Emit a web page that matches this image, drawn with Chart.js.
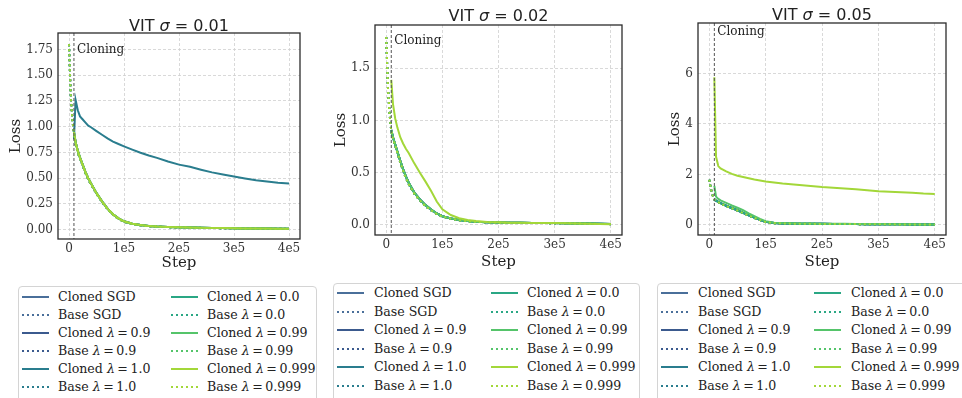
<!DOCTYPE html>
<html><head><meta charset="utf-8">
<script src="https://cdn.jsdelivr.net/npm/chart.js@4.4.1/dist/chart.umd.min.js"></script>
<style>
html,body{margin:0;padding:0;background:#fff;}
body{width:962px;height:398px;position:relative;overflow:hidden;font-family:"DejaVu Serif",serif;}
canvas{position:absolute;}
.title{position:absolute;font-family:"DejaVu Sans",sans-serif;font-size:16px;color:#222;transform:translate(-50%,-50%);white-space:nowrap;}
.legend{position:absolute;border:1px solid #d4d4d4;border-radius:4px;background:#fff;box-sizing:border-box;}
.lt{position:absolute;font-size:12.6px;color:#222;white-space:nowrap;transform:translateY(-50%);line-height:1;}
svg{position:absolute;overflow:visible;}
</style></head><body>
<script>
// ---------- DATA ----------
const steps = [0,3000,6000,9000,12000,16000,20000,25000,30000,35000,40000,50000,60000,70000,80000,90000,100000,115000,130000,145000,160000,180000,200000,220000,240000,260000,280000,300000,320000,340000,360000,380000,400000];
const cloneStep = 9000;
const methods = ['SGD','0.9','1.0','0.0','0.99','0.999'];
const legendNames = ['Cloned SGD','Base SGD','Cloned λ = 0.9','Base λ = 0.9','Cloned λ = 1.0','Base λ = 1.0','Cloned λ = 0.0','Base λ = 0.0','Cloned λ = 0.99','Base λ = 0.99','Cloned λ = 0.999','Base λ = 0.999'];
const titles = ['0.01','0.02','0.05'];
const xTickValues = [0,100000,200000,300000,400000];
const xTickLabels = ['0','1e5','2e5','3e5','4e5'];

// sigma = 0.01
const base1 = [1.80,1.32,1.07,0.93,0.83,0.75,0.69,0.62,0.55,0.49,0.44,0.35,0.27,0.20,0.145,0.105,0.078,0.056,0.043,0.035,0.030,0.025,0.022,0.020,0.018,0.016,0.015,0.013,0.012,0.011,0.010,0.009,0.008];
const clonedLow1 = [null,null,null,0.95,0.85,0.765,0.70,0.63,0.56,0.50,0.45,0.355,0.275,0.205,0.15,0.11,0.082,0.058,0.045,0.037,0.031,0.026,0.023,0.021,0.019,0.017,0.016,0.014,0.013,0.012,0.011,0.010,0.009];
const clonedHigh1 = [null,null,null,0.88,1.26,1.16,1.10,1.07,1.04,1.01,0.995,0.958,0.922,0.887,0.856,0.832,0.81,0.778,0.747,0.721,0.698,0.662,0.632,0.611,0.583,0.557,0.536,0.516,0.498,0.481,0.468,0.456,0.448];
const yTicks1 = [0,0.25,0.5,0.75,1.0,1.25,1.5,1.75];
const yTickLabels1 = ['0.00','0.25','0.50','0.75','1.00','1.25','1.50','1.75'];

// sigma = 0.02
const base2 = [1.80,1.32,1.06,0.90,0.83,0.76,0.69,0.60,0.52,0.45,0.39,0.30,0.235,0.18,0.14,0.105,0.08,0.06,0.045,0.035,0.030,0.025,0.022,0.020,0.020,0.019,0.018,0.017,0.016,0.014,0.012,0.010,0.008];
const clonedLow2 = [null,null,null,0.91,0.84,0.77,0.70,0.615,0.535,0.465,0.405,0.31,0.245,0.19,0.148,0.11,0.084,0.063,0.047,0.037,0.031,0.026,0.023,0.021,0.021,0.020,0.019,0.018,0.017,0.015,0.013,0.011,0.009];
const clonedHigh2 = [null,null,null,1.39,1.16,1.02,0.93,0.84,0.78,0.73,0.69,0.59,0.50,0.415,0.325,0.225,0.15,0.095,0.065,0.048,0.037,0.029,0.025,0.022,0.021,0.020,0.019,0.018,0.016,0.014,0.012,0.010,0.008];
const yTicks2 = [0,0.5,1.0,1.5];
const yTickLabels2 = ['0.0','0.5','1.0','1.5'];

// sigma = 0.05
const base3 = [1.79,1.42,1.17,1.00,0.95,0.90,0.85,0.80,0.75,0.70,0.66,0.57,0.47,0.37,0.28,0.19,0.11,0.07,0.055,0.05,0.046,0.042,0.039,0.036,0.033,0.031,0.028,0.025,0.022,0.02,0.018,0.016,0.014];
const clonedLow3 = [null,null,null,1.02,0.96,0.91,0.86,0.81,0.76,0.71,0.67,0.58,0.48,0.38,0.29,0.20,0.12,0.075,0.06,0.054,0.049,0.045,0.041,0.038,0.035,0.032,0.029,0.026,0.024,0.021,0.019,0.017,0.015];
const clonedMid3 = [null,null,null,1.55,1.12,1.03,0.97,0.92,0.87,0.82,0.77,0.68,0.58,0.46,0.35,0.24,0.15,0.09,0.072,0.064,0.058,0.053,0.049,0.045,0.042,0.039,0.035,0.032,0.029,0.026,0.023,0.020,0.018];
const clonedHigh3 = [null,null,null,5.85,2.7,2.33,2.24,2.18,2.12,2.07,2.02,1.95,1.90,1.85,1.80,1.76,1.72,1.68,1.64,1.61,1.58,1.54,1.50,1.47,1.44,1.41,1.37,1.33,1.31,1.29,1.27,1.24,1.22];
const yTicks3 = [0,2,4,6];
const yTickLabels3 = ['0','2','4','6'];

// series per panel, in order of methods: [cloned, base]
const panelSeries = [
  [[clonedLow1,base1],[clonedLow1,base1],[clonedHigh1,base1],[clonedLow1,base1],[clonedLow1,base1],[clonedLow1,base1]],
  [[clonedLow2,base2],[clonedLow2,base2],[clonedLow2,base2],[clonedLow2,base2],[clonedLow2,base2],[clonedHigh2,base2]],
  [[clonedLow3,base3],[clonedLow3,base3],[clonedLow3,base3],[clonedLow3,base3],[clonedMid3,base3],[clonedHigh3,base3]]
];
const panelYTicks = [yTicks1,yTicks2,yTicks3];
const panelYLabels = [yTickLabels1,yTickLabels2,yTickLabels3];
const panelYRange = [[-0.09,1.91],[-0.096,1.915],[-0.4,8.0]];
const cloningTextY = [1.75,1.765,7.65];

// ---------- STYLE / LAYOUT ----------
const colors = ['#4a6f9a','#3b5a8e','#2a7d8e','#2aa784','#55c46a','#a3d739'];
const geo = [
  {cl:3,  cw:303, ch:276, pl:58,  pt:33, pr:300, pb:239, tx:179,   ty:25},
  {cl:328,cw:300, ch:275, pl:375, pt:25, pr:622, pb:235, tx:498.5, ty:15},
  {cl:662,cw:290, ch:275, pl:698, pt:23, pr:946, pb:235, tx:822,   ty:14}
];
const lgeo = [
  {bl:18, bt:286, br:317, r0:296.5, dy:18,   c1:22,  t1:58,  c2:171, t2:207},
  {bl:333,bt:283, br:640, r0:293.3, dy:18.5, c1:337, t1:374, c2:491, t2:527},
  {bl:657,bt:283, br:975, r0:293.3, dy:18.5, c1:661, t1:698, c2:814, t2:851}
];

const overlay = {
  id:'overlay',
  afterDatasetsDraw(chart, args, opts){
    const {ctx, chartArea:a, scales:{x,y}} = chart;
    ctx.save();
    const cx = x.getPixelForValue(cloneStep);
    ctx.setLineDash([3,2]); ctx.strokeStyle='#555'; ctx.lineWidth=1;
    ctx.beginPath(); ctx.moveTo(cx,a.top); ctx.lineTo(cx,a.bottom); ctx.stroke();
    ctx.setLineDash([]);
    ctx.font='12px "DejaVu Serif"'; ctx.fillStyle='#222'; ctx.textBaseline='middle'; ctx.textAlign='left';
    ctx.fillText('Cloning', cx+3, y.getPixelForValue(opts.textY));
    ctx.strokeStyle='#2b2b2b'; ctx.lineWidth=1.3;
    ctx.strokeRect(a.left,a.top,a.width,a.height);
    ctx.restore();
  }
};

for (let p=0;p<3;p++){
  const g = geo[p];
  const cv = document.createElement('canvas');
  cv.width=g.cw; cv.height=g.ch;
  cv.style.left=g.cl+'px'; cv.style.top='0px';
  cv.style.width=g.cw+'px'; cv.style.height=g.ch+'px';
  document.body.appendChild(cv);

  const t = document.createElement('div');
  t.className='title';
  t.style.left=g.tx+'px'; t.style.top=g.ty+'px';
  t.innerHTML='VIT <i>σ</i> = '+titles[p];
  document.body.appendChild(t);

  const datasets=[];
  let idx=0;
  methods.forEach((m,mi)=>{
    const [cl,bs] = panelSeries[p][mi];
    [[cl,false],[bs,true]].forEach(([arr,isBase])=>{
      const data=[];
      steps.forEach((s,i)=>{ if(arr[i]!==null) data.push({x:s,y:arr[i]}); });
      datasets.push({
        label: legendNames[idx],
        data, borderColor: colors[mi], backgroundColor: colors[mi],
        borderWidth: 2, borderDash: isBase?[2,3]:[],
        pointRadius:0, tension:0, fill:false,
        order: 20-idx
      });
      idx++;
    });
  });

  const yt = panelYTicks[p], yl = panelYLabels[p];
  new Chart(cv.getContext('2d'),{
    type:'line',
    data:{datasets},
    plugins:[overlay],
    options:{
      responsive:false, animation:false, devicePixelRatio:1,
      parsing:false,
      layout:{padding:{left:0, top:g.pt, right:g.cw-(g.pr-g.cl), bottom:0}},
      plugins:{legend:{display:false}, tooltip:{enabled:false}, overlay:{textY:cloningTextY[p]}},
      scales:{
        x:{type:'linear', min:-20000, max:420000,
          afterBuildTicks(s){ s.ticks = xTickValues.map(v=>({value:v})); },
          afterFit(s){ s.height = g.ch - g.pb; },
          ticks:{padding:3, color:'#333', font:{family:'DejaVu Serif', size:12},
            callback:(v)=>{const i=xTickValues.indexOf(v); return i>=0?xTickLabels[i]:'';}},
          grid:{color:'#cfcfcf', lineWidth:0.8, drawTicks:false},
          border:{display:false, dash:[3,2]},
          title:{display:true, text:'Step', color:'#222', font:{family:'DejaVu Serif', size:15}, padding:{top:4,bottom:4}}
        },
        y:{type:'linear', min:panelYRange[p][0], max:panelYRange[p][1],
          afterBuildTicks(s){ s.ticks = yt.map(v=>({value:v})); },
          afterFit(s){ s.width = g.pl - g.cl; },
          ticks:{padding:5, color:'#333', font:{family:'DejaVu Serif', size:12},
            callback:(v)=>{const i=yt.indexOf(v); return i>=0?yl[i]:'';}},
          grid:{color:'#cfcfcf', lineWidth:0.8, drawTicks:false},
          border:{display:false, dash:[3,2]},
          title:{display:true, text:'Loss', color:'#222', font:{family:'DejaVu Serif', size:15}, padding:{top:4,bottom:4}}
        }
      }
    }
  });

  // legend
  const L = lgeo[p];
  const box = document.createElement('div');
  box.className='legend';
  box.style.left=L.bl+'px'; box.style.top=L.bt+'px';
  box.style.width=(L.br-L.bl)+'px'; box.style.height='140px';
  document.body.appendChild(box);
  for (let k=0;k<12;k++){
    const col = k<6?0:1, row = k%6;
    const mi = Math.floor(k/2), isBase = k%2===1;
    const yy = L.r0 + row*L.dy;
    const lx = col===0?L.c1:L.c2, tx = col===0?L.t1:L.t2;
    const svg = document.createElementNS('http://www.w3.org/2000/svg','svg');
    svg.setAttribute('width','27'); svg.setAttribute('height','4');
    svg.style.left=lx+'px'; svg.style.top=(yy-2)+'px';
    const ln = document.createElementNS('http://www.w3.org/2000/svg','line');
    ln.setAttribute('x1','0'); ln.setAttribute('x2','27'); ln.setAttribute('y1','2'); ln.setAttribute('y2','2');
    ln.setAttribute('stroke',colors[mi]); ln.setAttribute('stroke-width','2');
    if(isBase) ln.setAttribute('stroke-dasharray','2,3');
    svg.appendChild(ln);
    document.body.appendChild(svg);
    const tdiv = document.createElement('div');
    tdiv.className='lt';
    tdiv.style.left=tx+'px'; tdiv.style.top=yy+'px';
    tdiv.innerHTML = legendNames[k].replace('λ = ','<i>λ</i>\u2009=\u2009');
    document.body.appendChild(tdiv);
  }
}
</script>
</body></html>
